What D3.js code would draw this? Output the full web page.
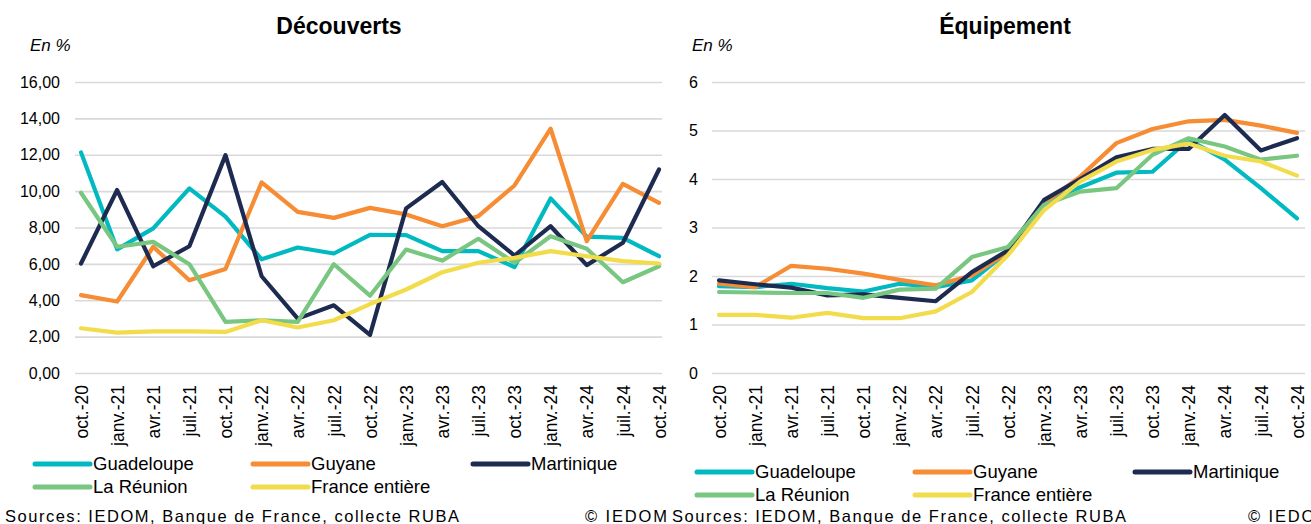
<!DOCTYPE html>
<html>
<head>
<meta charset="utf-8">
<script src="https://cdn.jsdelivr.net/npm/d3@7"></script>
<style>
  body { margin: 0; background: #fff; }
  svg { display: block; font-family: "Liberation Sans", Arial, sans-serif; }
</style>
</head>
<body>
<svg id="chart" width="1311" height="524"></svg>
<script>
const categories = ["oct.-20", "janv.-21", "avr.-21", "juil.-21", "oct.-21", "janv.-22", "avr.-22", "juil.-22", "oct.-22",
  "janv.-23", "avr.-23", "juil.-23", "oct.-23", "janv.-24", "avr.-24", "juil.-24", "oct.-24"];

const seriesNames = ["Guadeloupe", "Guyane", "Martinique", "La Réunion", "France entière"];
const seriesColors = ["#00b9c1", "#f68c33", "#1e2b50", "#78c680", "#f2dc4c"];

// Découverts (en %)
const guadeloupeDec = [12.13, 6.80, 7.95, 10.15, 8.60, 6.25, 6.90, 6.57, 7.60, 7.58, 6.70, 6.70, 5.83, 9.60, 7.50, 7.43, 6.42];
const guyaneDec = [4.28, 3.93, 6.94, 5.10, 5.72, 10.48, 8.86, 8.53, 9.08, 8.72, 8.07, 8.62, 10.31, 13.43, 7.25, 10.40, 9.36];
const martiniqueDec = [6.02, 10.06, 5.87, 6.97, 11.98, 5.32, 2.99, 3.72, 2.10, 9.05, 10.50, 8.07, 6.46, 8.07, 5.93, 7.16, 11.19];
const reunionDec = [9.91, 6.94, 7.21, 5.98, 2.81, 2.90, 2.81, 5.98, 4.25, 6.79, 6.18, 7.38, 6.06, 7.52, 6.83, 4.99, 5.87];
const franceDec = [2.46, 2.22, 2.29, 2.29, 2.26, 2.90, 2.50, 2.90, 3.79, 4.59, 5.54, 6.06, 6.33, 6.70, 6.42, 6.15, 6.02];

// Équipement (en %)
const guadeloupeEq = [1.79, 1.77, 1.84, 1.75, 1.68, 1.84, 1.77, 1.91, 2.50, 3.54, 3.83, 4.13, 4.15, 4.81, 4.40, 3.81, 3.19];
const guyaneEq = [1.84, 1.77, 2.21, 2.15, 2.05, 1.92, 1.81, 2.01, 2.49, 3.50, 4.05, 4.74, 5.03, 5.19, 5.22, 5.10, 4.95];
const martiniqueEq = [1.91, 1.83, 1.76, 1.60, 1.62, 1.55, 1.48, 2.08, 2.53, 3.57, 4.00, 4.45, 4.62, 4.62, 5.32, 4.59, 4.84];
const reunionEq = [1.67, 1.66, 1.65, 1.65, 1.55, 1.72, 1.74, 2.39, 2.60, 3.47, 3.74, 3.81, 4.50, 4.84, 4.67, 4.40, 4.48];
const franceEq = [1.20, 1.20, 1.14, 1.24, 1.13, 1.13, 1.27, 1.67, 2.43, 3.36, 3.95, 4.36, 4.60, 4.73, 4.48, 4.36, 4.07];

const decTicks = [0, 2, 4, 6, 8, 10, 12, 14, 16];
const eqTicks = [0, 1, 2, 3, 4, 5, 6];

const svg = d3.select("#chart");

// french number format: comma as decimal separator
const fr = d3.formatLocale({ decimal: ",", thousands: " ", grouping: [3], currency: ["", " €"] });

function drawPanel(opt) {
  var g = svg.append("g");

  var x = d3.scalePoint()
    .domain(categories)
    .range([opt.x0, opt.x1]);

  var y = d3.scaleLinear()
    .domain([0, opt.max])
    .range([373, 82]);

  // TITLE + UNIT
  g.append("text")
    .attr("x", opt.titleX).attr("y", 34)
    .attr("text-anchor", "middle")
    .style("font-size", "23px").style("font-weight", "bold")
    .text(opt.title);

  g.append("text")
    .attr("x", opt.unitX).attr("y", 51)
    .style("font-size", "17px").style("font-style", "italic")
    .text("En %");

  // GRID + Y LABELS
  var yAxis = d3.axisLeft(y)
    .tickValues(opt.ticks)
    .tickSize(-(opt.gridX1 - opt.gridX0))
    .tickPadding(opt.gridX0 - opt.labelX)
    .tickFormat(opt.format);

  var ya = g.append("g")
    .attr("transform", "translate(" + opt.gridX0 + ",0)")
    .call(yAxis);
  ya.select(".domain").remove();
  ya.selectAll("line").attr("stroke", "#d9d9d9").attr("stroke-width", 1.6);
  ya.selectAll("text")
    .style("font-size", "16px").style("font-family", "Liberation Sans, Arial, sans-serif")
    .attr("fill", "#000");

  // X LABELS
  var xAxis = d3.axisBottom(x).tickSize(0).tickPadding(0);
  var xa = g.append("g")
    .attr("transform", "translate(0,385)")
    .call(xAxis);
  xa.select(".domain").remove();
  xa.selectAll("text")
    .attr("transform", "rotate(-90)")
    .attr("x", 0).attr("y", 0).attr("dy", "0.35em")
    .style("text-anchor", "end")
    .style("font-size", "17.5px").style("font-family", "Liberation Sans, Arial, sans-serif")
    .attr("fill", "#000");

  // LINES
  var line = d3.line()
    .x(function(d, i) { return x(categories[i]); })
    .y(function(d) { return y(d); });

  opt.series.forEach(function(s, i) {
    g.append("path")
      .datum(s)
      .attr("fill", "none")
      .attr("stroke", seriesColors[i])
      .attr("stroke-width", 4.2)
      .attr("stroke-linejoin", "round")
      .attr("stroke-linecap", "round")
      .attr("d", line);
  });

  // LEGEND
  var cols = [0, 218, 438];
  seriesNames.forEach(function(name, i) {
    var lx = opt.legendX + cols[i % 3];
    var ly = opt.legendY + Math.floor(i / 3) * 23;
    g.append("line")
      .attr("x1", lx).attr("x2", lx + 55)
      .attr("y1", ly).attr("y2", ly)
      .attr("stroke", seriesColors[i])
      .attr("stroke-width", 5)
      .attr("stroke-linecap", "round");
    g.append("text")
      .attr("x", lx + 58).attr("y", ly + 6)
      .style("font-size", "18.5px")
      .text(name);
  });

  // SOURCE
  g.append("text")
    .attr("x", opt.sourceX).attr("y", 522)
    .attr("textLength", 454).attr("lengthAdjust", "spacing")
    .style("font-size", "16.5px")
    .text("Sources: IEDOM, Banque de France, collecte RUBA");

  g.append("text")
    .attr("x", opt.copyX).attr("y", 522)
    .attr("textLength", 82).attr("lengthAdjust", "spacing")
    .style("font-size", "16.5px")
    .text("© IEDOM");
}

drawPanel({
  title: "Découverts", titleX: 339, unitX: 30,
  x0: 81, x1: 659, gridX0: 75, gridX1: 662, labelX: 60,
  max: 16, ticks: decTicks, format: fr.format(".2f"),
  series: [guadeloupeDec, guyaneDec, martiniqueDec, reunionDec, franceDec],
  legendX: 35, legendY: 464, sourceX: 5, copyX: 585
});

drawPanel({
  title: "Équipement", titleX: 1005, unitX: 692,
  x0: 719, x1: 1297, gridX0: 712, gridX1: 1305, labelX: 698,
  max: 6, ticks: eqTicks, format: fr.format("d"),
  series: [guadeloupeEq, guyaneEq, martiniqueEq, reunionEq, franceEq],
  legendX: 697, legendY: 472, sourceX: 672, copyX: 1248
});
</script>
</body>
</html>
